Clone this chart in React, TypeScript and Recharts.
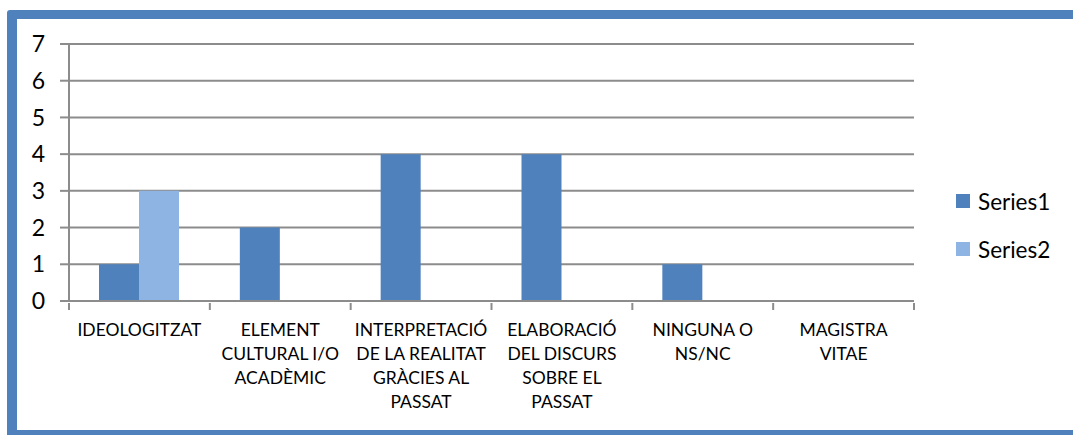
import * as React from 'react';
import { BarChart, Bar, XAxis, YAxis, CartesianGrid } from 'recharts';

const categories = [
  'IDEOLOGITZAT',
  'ELEMENT\nCULTURAL I/O\nACADÈMIC',
  'INTERPRETACIÓ\nDE LA REALITAT\nGRÀCIES AL\nPASSAT',
  'ELABORACIÓ\nDEL DISCURS\nSOBRE EL\nPASSAT',
  'NINGUNA O\nNS/NC',
  'MAGISTRA\nVITAE',
];
const series1 = [1, 2, 4, 4, 1, 0];
const series2 = [3, 0, 0, 0, 0, 0];
const seriesNames = ['Series1', 'Series2'];
const seriesColors = ['#4F81BD', '#8EB4E3'];
const yTicks = [0, 1, 2, 3, 4, 5, 6, 7];

const data = categories.map((name, i) => ({ name, s1: series1[i], s2: series2[i] }));

const FONT = 'Lato, "Open Sans", sans-serif';
const GRID = '#8C8C8C';

function CategoryTick(props: any) {
  const { x, y, payload, index } = props;
  const half = payload.offset || 0;
  const lines = String(payload.value).split('\n');
  return (
    <g>
      <line x1={x - half} x2={x - half} y1={y - 6} y2={y + 1} stroke={GRID} strokeWidth={2} />
      {index === categories.length - 1 && (
        <line x1={x + half} x2={x + half} y1={y - 6} y2={y + 1} stroke={GRID} strokeWidth={2} />
      )}
      <text x={x} y={y + 27} textAnchor='middle' fontSize={17.5} fontFamily={FONT} fill='#000'>
        {lines.map((l, i) => (
          <tspan key={i} x={x} dy={i === 0 ? 0 : 24}>
            {l}
          </tspan>
        ))}
      </text>
    </g>
  );
}

export default function App() {
  return (
    <div style={{ position: 'absolute', left: 0, top: 0, width: 1073, height: 435, overflow: 'hidden', background: '#fff' }}>
      <div
        style={{
          position: 'absolute',
          left: 7,
          top: 10,
          width: 1100,
          height: 430,
          boxSizing: 'border-box',
          border: '10px solid #4F81BD',
          borderTopWidth: 9,
          borderRadius: 3,
        }}
      />
      <div style={{ position: 'absolute', left: 0, top: 0 }}>
        <BarChart
          width={1073}
          height={435}
          data={data}
          barGap={0}
          barSize={40}
          margin={{ top: 44, right: 159, bottom: 0, left: 0 }}
        >
          <CartesianGrid vertical={false} stroke={GRID} strokeWidth={2} />
          <XAxis
            dataKey='name'
            tick={<CategoryTick />}
            tickLine={false}
            axisLine={{ stroke: GRID, strokeWidth: 2 }}
            interval={0}
            height={134}
          />
          <YAxis
            domain={[0, 7]}
            ticks={yTicks}
            width={69}
            tickSize={9}
            tickMargin={15}
            interval={0}
            axisLine={{ stroke: GRID, strokeWidth: 2 }}
            tickLine={{ stroke: GRID, strokeWidth: 2 }}
            tick={{ fontSize: 23, fontFamily: FONT, fill: '#000' }}
          />
          <Bar dataKey='s1' name={seriesNames[0]} fill={seriesColors[0]} isAnimationActive={false} />
          <Bar dataKey='s2' name={seriesNames[1]} fill={seriesColors[1]} isAnimationActive={false} />
        </BarChart>
      </div>
      {seriesNames.map((n, i) => (
        <div
          key={n}
          style={{
            position: 'absolute',
            left: 956,
            top: 189 + i * 48,
            height: 24,
            display: 'flex',
            alignItems: 'center',
            fontFamily: FONT,
            fontSize: 22.5,
            color: '#000',
          }}
        >
          <span style={{ width: 14, height: 14, background: seriesColors[i], marginRight: 8 }} />
          {n}
        </div>
      ))}
    </div>
  );
}
